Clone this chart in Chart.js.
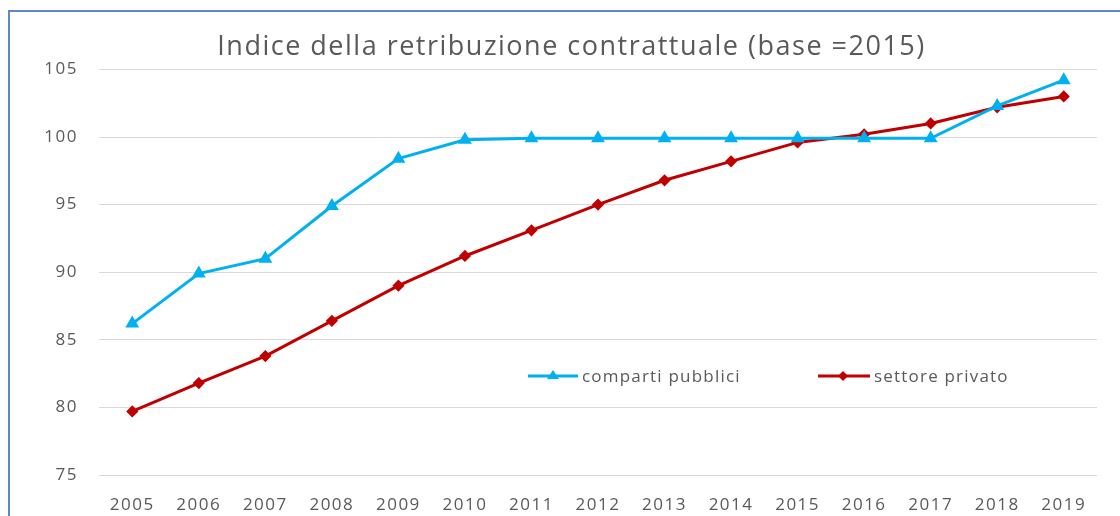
<!DOCTYPE html>
<html>
<head>
<meta charset="utf-8">
<script src="https://cdn.jsdelivr.net/npm/chart.js@4"></script>
<style>
  html, body { margin: 0; padding: 0; background: #fff; }
  #wrap { position: relative; width: 1120px; height: 516px; overflow: hidden; }
  #frame { position: absolute; left: 8px; top: 10px; width: 1200px; height: 600px; border: 2px solid #5f86cc; box-sizing: border-box; }
  canvas { position: absolute; left: 0; top: 0; }
  .legend { position: absolute; top: 364px; font: 17px "Open Sans", sans-serif; letter-spacing: 1.2px; color: #595959; display: flex; align-items: center; }
  .legend svg { margin-right: 4px; }
</style>
</head>
<body>
<div id="wrap">
  <div id="frame"></div>
  <canvas id="c" width="1120" height="516"></canvas>
  <div class="legend" style="left:528px">
    <svg width="50" height="22"><line x1="0" y1="11" x2="50" y2="11" stroke="#00b0f0" stroke-width="3"/><polygon points="25,5 31,14 19,14" fill="#00b0f0"/></svg>comparti pubblici
  </div>
  <div class="legend" style="left:818px">
    <svg width="52" height="22"><line x1="0" y1="11" x2="52" y2="11" stroke="#c00000" stroke-width="3"/><polygon points="25,6 30,11 25,16 20,11" fill="#c00000"/></svg>settore privato
  </div>
</div>
<script>
// anni e valori
const years = ['2005', '2006', '2007', '2008', '2009', '2010', '2011', '2012', '2013', '2014', '2015', '2016', '2017', '2018', '2019'];
const pubblici = [86.2, 89.9, 91.0, 94.9, 98.4, 99.8, 99.9, 99.9, 99.9, 99.9, 99.9, 99.9, 99.9, 102.3, 104.2];
const privato = [79.7, 81.8, 83.8, 86.4, 89.0, 91.2, 93.1, 95.0, 96.8, 98.2, 99.6, 100.2, 101.0, 102.2, 103.0];
const yTicks = [75, 80, 85, 90, 95, 100, 105];

const grey = '#595959';

// il testo dell'originale e' un po' spaziato
const spacing = {
  id: 'spacing',
  beforeDraw(chart) { chart.ctx.letterSpacing = '1.5px'; }
};

new Chart(document.getElementById('c'), {
  type: 'line',
  data: {
    labels: years,
    datasets: [
      {
        label: 'comparti pubblici',
        data: pubblici,
        borderColor: '#00b0f0',
        backgroundColor: '#00b0f0',
        borderWidth: 3,
        pointStyle: 'triangle',
        pointRadius: 5,
        tension: 0
      },
      {
        label: 'settore privato',
        data: privato,
        borderColor: '#c00000',
        backgroundColor: '#c00000',
        borderWidth: 3,
        pointStyle: 'rectRot',
        pointRadius: 4,
        tension: 0
      }
    ]
  },
  options: {
    responsive: false,
    animation: false,
    layout: { padding: { left: 46, right: 23, top: 0, bottom: 0 } },
    plugins: {
      legend: { display: false },
      tooltip: { enabled: false },
      title: {
        display: true,
        text: 'Indice della retribuzione contrattuale (base =2015)',
        color: grey,
        font: { family: 'Open Sans', size: 27, weight: 'normal' },
        padding: { top: 31, bottom: 6 }
      }
    },
    scales: {
      x: {
        offset: true,
        grid: { display: false },
        border: { display: false },
        ticks: { color: grey, font: { family: 'Open Sans', size: 17 }, padding: 12, maxRotation: 0 },
        afterFit: (s) => { s.height = 41; }
      },
      y: {
        min: 75,
        max: 105,
        afterBuildTicks: (s) => { s.ticks = yTicks.map(v => ({ value: v })); },
        grid: { color: '#d9d9d9', lineWidth: 1, drawTicks: false },
        border: { display: false },
        ticks: { color: grey, font: { family: 'Open Sans', size: 17 }, padding: 21 },
        afterFit: (s) => { s.width = 53; }
      }
    }
  },
  plugins: [spacing]
});
</script>
</body>
</html>
